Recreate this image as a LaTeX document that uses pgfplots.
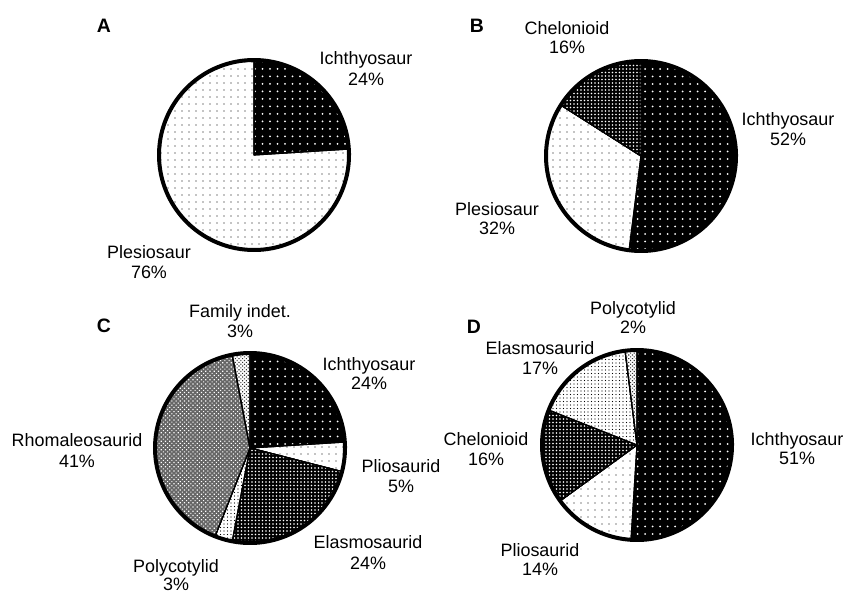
\documentclass[border=0pt]{standalone}
\usepackage{fontspec}
\setmainfont{Liberation Sans}
\usepackage{pgfplots}
\pgfplotsset{compat=1.18}
\usetikzlibrary{patterns.meta}

\newcommand\lblfont{\fontsize{18}{20}\selectfont}
\newcommand\panfont{\fontsize{19.5}{22}\selectfont\bfseries}

\tikzset{
 sl/.style={draw=black, line width=1.2bp, line join=round},
 ichthy/.style={sl, preaction={fill=black}, pattern={Dots[distance=7.5bp, radius=1.0bp]}, pattern color=white},
 sparse/.style={sl, preaction={fill=white}, pattern={Dots[distance=7bp, radius=0.7bp]}, pattern color=black},
 darkdense/.style={sl, preaction={fill=black}, pattern={Dots[distance=3.5bp, radius=0.85bp]}, pattern color=white},
 lightdense/.style={sl, preaction={fill=white}, pattern={Dots[distance=3.5bp, radius=0.7bp]}, pattern color=black},
 rhomal/.style={sl, preaction={fill=black!60}, pattern={Dots[distance=3bp, radius=0.8bp, angle=45]}, pattern color=white},
 checker/.style={sl, preaction={fill=white}, pattern={Dots[distance=2.6bp, radius=0.8bp, angle=45]}, pattern color=black!80},
}

% slice: cx, cy, r, from %, to %, style  (clockwise from 12 o'clock; y axis points down)
\newcommand\slice[6]{\addplot[#6, domain={-90+3.6*#4}:{-90+3.6*#5}, samples=90] ({#1+#3*cos(x)},{#2+#3*sin(x)}) -- (axis cs:#1,#2) -- cycle;}
\newcommand\ring[3]{\addplot[black, line width=4bp, domain=0:360, samples=180] ({#1+#3*cos(x)},{#2+#3*sin(x)}) -- cycle;}
\newcommand\lab[5]{\node[font=\lblfont, anchor=base] at (axis cs:#1,#2) {#4};\node[font=\lblfont, anchor=base] at (axis cs:#1,#3) {#5};}

\begin{document}
\begin{tikzpicture}
\begin{axis}[
  width=846bp, height=594bp, scale only axis,
  xmin=0, xmax=846, ymin=0, ymax=594, y dir=reverse,
  hide axis, clip=false,
]
% ---- A: Ichthyosaur 24, Plesiosaur 76
\slice{254}{155}{95}{0}{24}{ichthy}
\slice{254}{155}{95}{24}{100}{sparse}
\ring{254}{155}{95}
% ---- B: Ichthyosaur 52, Plesiosaur 32, Chelonioid 16
\slice{641}{156}{95}{0}{52}{ichthy}
\slice{641}{156}{95}{52}{84}{sparse}
\slice{641}{156}{95}{84}{100}{darkdense}
\ring{641}{156}{95}
% ---- C: Ichthyosaur 24, Pliosaurid 5, Elasmosaurid 24, Polycotylid 3, Rhomaleosaurid 41, Family indet. 3
\slice{250}{448}{95}{0}{24}{ichthy}
\slice{250}{448}{95}{24}{29}{sparse}
\slice{250}{448}{95}{29}{53}{darkdense}
\slice{250}{448}{95}{53}{56}{lightdense}
\slice{250}{448}{95}{56}{97}{rhomal}
\slice{250}{448}{95}{97}{100}{checker}
\ring{250}{448}{95}
% ---- D: Ichthyosaur 51, Pliosaurid 14, Chelonioid 16, Elasmosaurid 17, Polycotylid 2
\slice{637}{445}{95}{0}{51}{ichthy}
\slice{637}{445}{95}{51}{65}{sparse}
\slice{637}{445}{95}{65}{81}{darkdense}
\slice{637}{445}{95}{81}{98}{lightdense}
\slice{637}{445}{95}{98}{100}{checker}
\ring{637}{445}{95}

% panel letters
\node[font=\panfont, anchor=base] at (axis cs:104,33) {A};
\node[font=\panfont, anchor=base] at (axis cs:477,33) {B};
\node[font=\panfont, anchor=base] at (axis cs:104,332) {C};
\node[font=\panfont, anchor=base] at (axis cs:474,333) {D};

% labels A
\lab{366}{65}{86}{Ichthyosaur}{24\%}
\lab{149}{258}{278}{Plesiosaur}{76\%}
% labels B
\lab{567}{35}{54}{Chelonioid}{16\%}
\lab{788}{125}{145}{Ichthyosaur}{52\%}
\lab{497}{215}{234}{Plesiosaur}{32\%}
% labels C
\lab{240}{317}{337}{Family indet.}{3\%}
\lab{369}{370}{389}{Ichthyosaur}{24\%}
\lab{401}{472}{492}{Pliosaurid}{5\%}
\lab{77}{446}{467}{Rhomaleosaurid}{41\%}
\lab{368}{548}{569}{Elasmosaurid}{24\%}
\lab{176}{572}{590}{Polycotylid}{3\%}
% labels D
\lab{633}{314}{333}{Polycotylid}{2\%}
\lab{540}{354}{374}{Elasmosaurid}{17\%}
\lab{486}{445}{465}{Chelonioid}{16\%}
\lab{797}{445}{464}{Ichthyosaur}{51\%}
\lab{540}{556}{575}{Pliosaurid}{14\%}
\end{axis}
\pgfresetboundingbox
\path (current axis.south west) rectangle (current axis.north east);
\end{tikzpicture}
\end{document}
